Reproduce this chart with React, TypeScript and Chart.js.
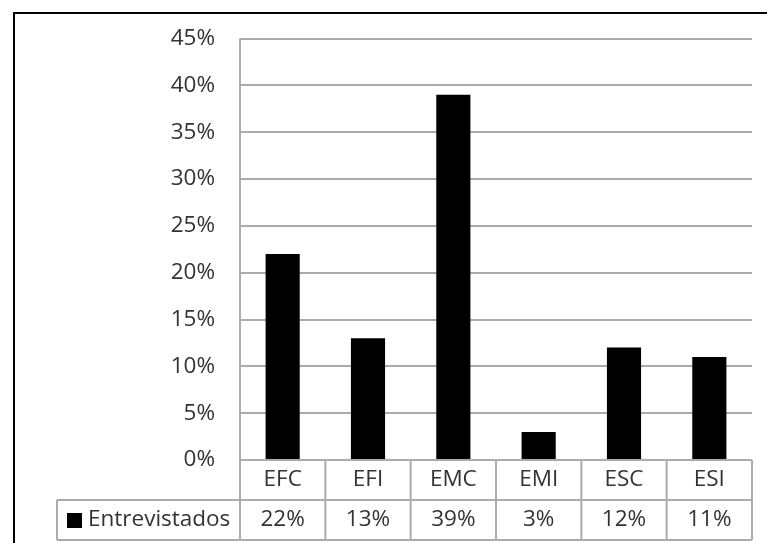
import React, { useEffect, useRef } from "react";
import { Chart, registerables } from "chart.js";

Chart.register(...registerables);

const categories = ["EFC", "EFI", "EMC", "EMI", "ESC", "ESI"];
const values = [22, 13, 39, 3, 12, 11];
const seriesName = "Entrevistados";
const yMax = 45;
const yStep = 5;

const FONT = '"Open Sans", "DejaVu Sans", sans-serif';
const FONT_SIZE = 22.5;
const TEXT = "#333333";
const GRID = "#ababab";

const tablePlugin = {
  id: "tablePlugin",
  afterDraw(chart: any) {
    const ctx = chart.ctx;
    const area = chart.chartArea;
    const xs = chart.scales.x;
    const rowH = 40;
    const legendLeft = 57;
    const y0 = area.bottom;
    const y1 = y0 + rowH;
    const y2 = y1 + rowH;
    const n = categories.length;
    const colW = (area.right - area.left) / n;

    ctx.save();
    // outer frame (cropped)
    ctx.strokeStyle = "#000";
    ctx.lineWidth = 2;
    ctx.beginPath();
    ctx.moveTo(14, chart.height);
    ctx.lineTo(14, 13);
    ctx.lineTo(chart.width, 13);
    ctx.stroke();

    ctx.strokeStyle = GRID;
    ctx.lineWidth = 2;
    ctx.beginPath();
    // left axis line through table
    ctx.moveTo(area.left, area.top);
    ctx.lineTo(area.left, y2);
    // column dividers
    for (let i = 1; i <= n; i++) {
      const x = area.left + i * colW;
      ctx.moveTo(x, y0);
      ctx.lineTo(x, y2);
    }
    // horizontal rows
    ctx.moveTo(legendLeft, y1);
    ctx.lineTo(area.right, y1);
    ctx.moveTo(legendLeft, y2);
    ctx.lineTo(area.right, y2);
    // legend cell left
    ctx.moveTo(legendLeft, y1);
    ctx.lineTo(legendLeft, y2);
    ctx.stroke();

    // legend key
    const midY = (y1 + y2) / 2;
    ctx.fillStyle = "#000";
    ctx.fillRect(67, midY - 7, 15, 15);
    ctx.font = `${FONT_SIZE}px ${FONT}`;
    ctx.fillStyle = TEXT;
    ctx.textBaseline = "middle";
    ctx.textAlign = "left";
    ctx.fillText(seriesName, 88, midY);

    // values
    ctx.textAlign = "center";
    values.forEach((v, i) => {
      const x = xs.getPixelForValue(i);
      ctx.fillText(`${v}%`, x, midY);
    });
    ctx.restore();
  },
};

export default function App() {
  const ref = useRef<HTMLCanvasElement | null>(null);

  useEffect(() => {
    let chart: Chart | null = null;
    let cancelled = false;
    const make = () => {
      if (cancelled || !ref.current) return;
      chart = new Chart(ref.current, {
        type: "bar",
        data: {
          labels: categories,
          datasets: [
            {
              label: seriesName,
              data: values,
              backgroundColor: "#000000",
              borderWidth: 0,
              barPercentage: 0.4,
              categoryPercentage: 1,
            },
          ],
        },
        options: {
          responsive: false,
          animation: false,
          layout: { padding: { left: 0, top: 37, right: 15, bottom: 3 } },
          plugins: {
            legend: { display: false },
            tooltip: { enabled: false },
          },
          scales: {
            x: {
              grid: { display: false, drawTicks: false },
              border: { display: false },
              ticks: {
                padding: 6,
                color: TEXT,
                font: { family: FONT, size: FONT_SIZE },
                maxRotation: 0,
                autoSkip: false,
              },
              afterFit: (s: any) => {
                s.height = 80;
              },
            },
            y: {
              min: 0,
              max: yMax,
              grid: { color: GRID, lineWidth: 2, drawTicks: false },
              border: { display: false },
              ticks: {
                stepSize: yStep,
                padding: 25,
                color: TEXT,
                font: { family: FONT, size: FONT_SIZE },
                callback: (v: any) => `${v}%`,
              },
              afterFit: (s: any) => {
                s.width = 240;
              },
            },
          },
        },
        plugins: [tablePlugin],
      });
    };
    const fonts: any = (document as any).fonts;
    if (fonts && fonts.load) {
      fonts.load(`${FONT_SIZE}px "Open Sans"`).then(make, make);
    } else {
      make();
    }
    return () => {
      cancelled = true;
      if (chart) chart.destroy();
    };
  }, []);

  return (
    <div style={{ position: "absolute", left: 0, top: 0, width: 767, height: 543, background: "#fff" }}>
      <canvas ref={ref} width={767} height={543} style={{ display: "block" }} />
    </div>
  );
}
